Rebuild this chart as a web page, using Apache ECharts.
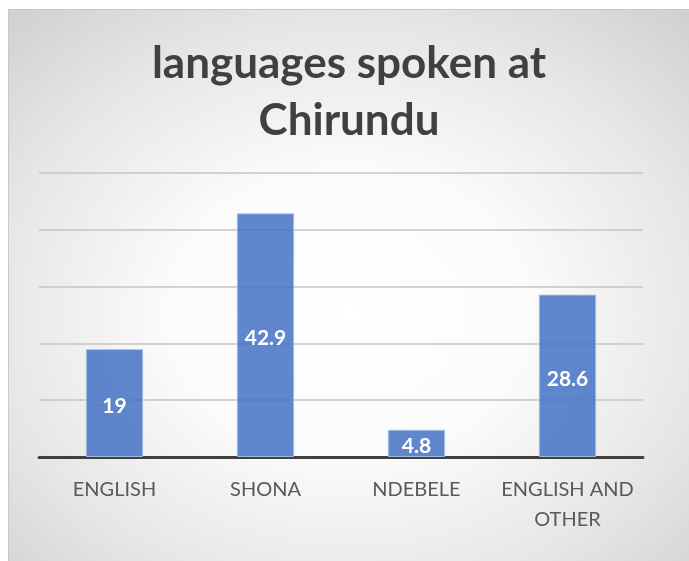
<!DOCTYPE html>
<html><head><meta charset="utf-8">
<script src="https://cdn.jsdelivr.net/npm/echarts@6/dist/echarts.min.js"></script>
<style>
html,body{margin:0;padding:0;background:#fff;width:689px;height:561px;overflow:hidden;}
#wrap{position:absolute;left:8px;top:9px;width:681px;height:552px;border-left:1px solid #c8c8c8;border-top:1px solid #c8c8c8;box-sizing:border-box;
background:radial-gradient(ellipse 75% 75% at 50% 55%, #ffffff 0%, #fbfbfb 35%, #e6e6e6 70%, #cfcfcf 100%);}
#chart{width:100%;height:100%;}
</style></head><body>
<div id="wrap"><div id="chart"></div></div>
<script>
const titleText = 'languages spoken at\nChirundu';
const categories = ['ENGLISH', 'SHONA', 'NDEBELE', 'ENGLISH AND\nOTHER'];
const values = [19, 42.9, 4.8, 28.6];
const yMin = 0, yMax = 50, yStep = 10;

const chart = echarts.init(document.getElementById('chart'), null, {renderer:'canvas'});
chart.setOption({
  backgroundColor: 'transparent',
  animation: false,
  title: {
    text: titleText,
    left: 'center',
    top: 20,
    textStyle: {fontFamily: 'Lato', fontWeight: 'bold', fontSize: 44, color: '#404040', lineHeight: 57}
  },
  grid: {left: 30, right: 46, top: 163, bottom: 104, containLabel: false},
  xAxis: {
    type: 'category',
    data: categories,
    axisLine: {show: true, lineStyle: {color: '#404040', width: 3}},
    axisTick: {show: false},
    axisLabel: {fontFamily: 'Lato', fontSize: 20, color: '#595959', margin: 18, lineHeight: 30, interval: 0}
  },
  yAxis: {
    type: 'value', min: yMin, max: yMax, interval: yStep,
    axisLine: {show: false}, axisTick: {show: false}, axisLabel: {show: false},
    splitLine: {lineStyle: {color: '#c4c4c4', width: 1.5}}
  },
  series: [{
    type: 'bar',
    data: values,
    barWidth: '38%',
    itemStyle: {color: 'rgba(68,114,196,0.85)', borderColor: 'rgba(170,195,235,0.9)', borderWidth: 1},
    label: {show: true, position: 'inside', offset: [0, 3], color: '#ffffff', fontFamily: 'Lato', fontWeight: 'bold', fontSize: 21}
  }]
});
</script>
</body></html>
